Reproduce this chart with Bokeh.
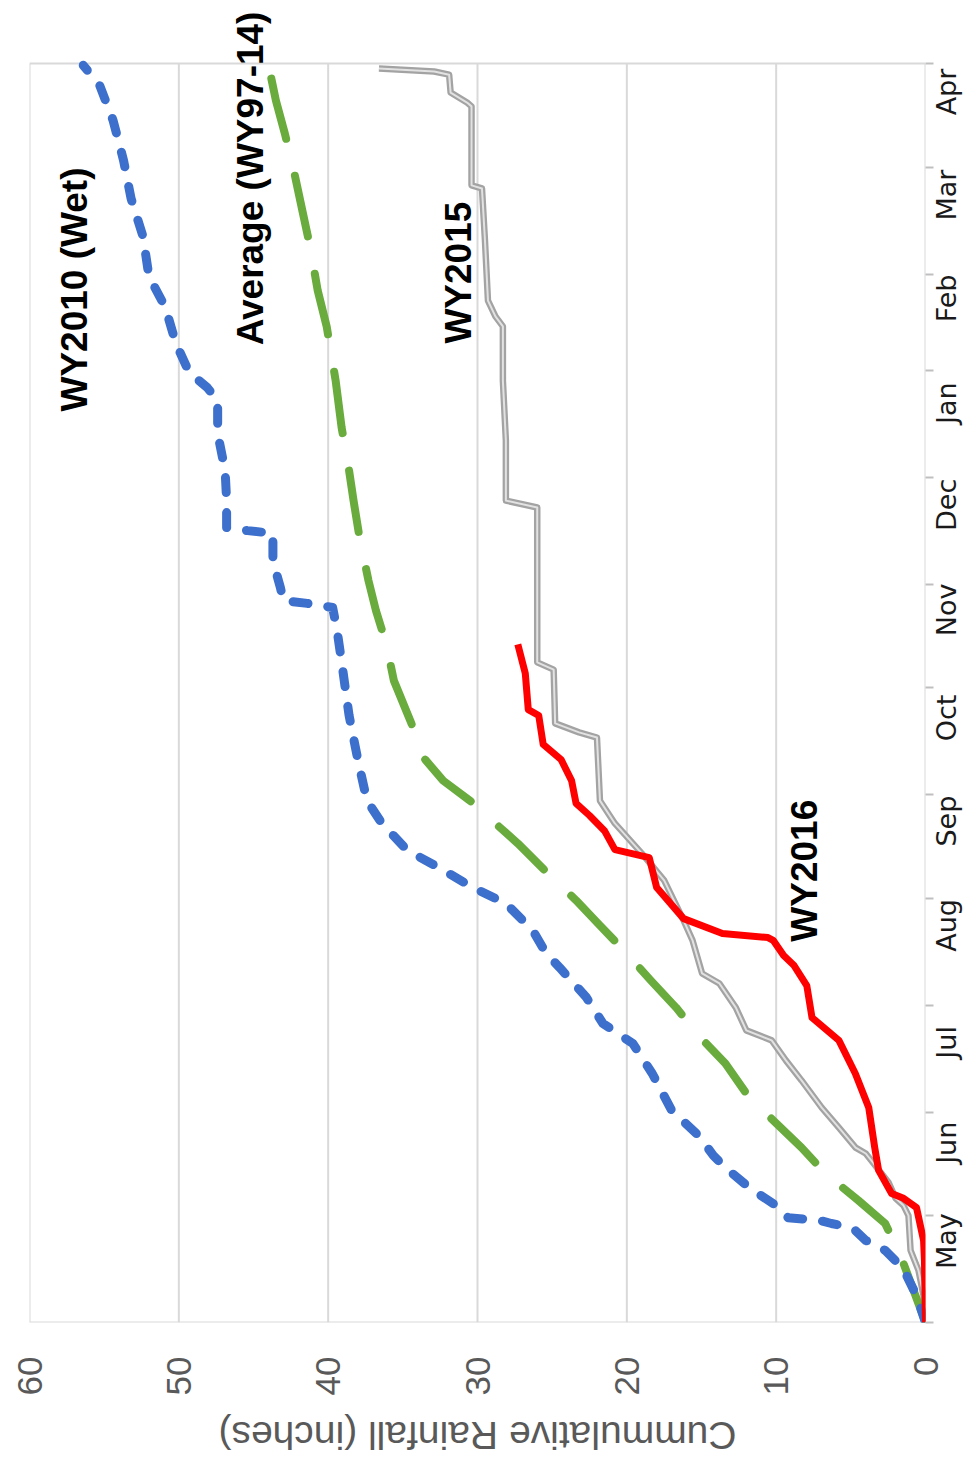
import numpy as np
from math import pi
from bokeh.plotting import figure
from bokeh.layouts import column
from bokeh.models import Range1d, FixedTicker, Label
from bokeh.embed import file_html
from bokeh.resources import INLINE

# ---------------- data ----------------
month_names = ["May", "Jun", "Jul", "Aug", "Sep", "Oct", "Nov", "Dec", "Jan", "Feb", "Mar", "Apr"]
month_days = [31, 30, 31, 31, 30, 31, 30, 31, 31, 28, 31, 30]
rain_ticks = [0, 10, 20, 30, 40, 50, 60]

# day of water year (0 = May 1) and cumulative rainfall (inches)
wy2010_day = [0, 7.8, 15.7, 20.9, 23.8, 27.5, 28.7, 29.6, 30.4, 33.3, 39.1, 44.9, 48.4, 54.2,
              61.5, 72.2, 80.9, 86.7, 94.2, 102.9, 107.0, 113.7, 121.5, 126.1, 131.9, 136.9,
              144.7, 151.3, 162.9, 176.0, 188.5, 200.6, 207.3, 208.5, 209.3, 213.1, 220.9,
              228.8, 229.6, 230.5, 238.3, 247.0, 257.8, 267.3, 271.1, 275.4, 283.9, 294.3,
              303.3, 314.9, 325.9, 336.9, 348.5, 358.7, 364.5]
wy2010_in = [0, 0.6, 1.5, 2.7, 4.0, 4.9, 6.3, 7.1, 9.2, 9.8, 11.8, 13.4, 14.2, 15.2,
             17.0, 18.3, 19.6, 21.6, 22.7, 24.5, 25.4, 26.3, 28.1, 30.3, 32.6, 34.7,
             36.4, 37.4, 38.0, 38.6, 39.0, 39.4, 39.7, 41.4, 43.0, 43.2, 43.7,
             43.7, 45.4, 46.8, 46.8, 46.9, 47.4, 47.4, 48.1, 49.3, 50.2, 50.9,
             52.0, 52.4, 53.2, 53.7, 54.4, 55.3, 56.4]

avg_day = [0, 9.3, 18.6, 28.7, 35.4, 43.2, 50.7, 58.6, 66.4, 75.1, 83.2, 91.3, 99.2, 107.9,
           115.1, 122.4, 131.1, 138.9, 144.7, 151.3, 157.1, 163.2, 174.5, 186.1, 196.6,
           206.4, 215.1, 227.6, 238.3, 249.9, 259.5, 273.1, 288.8, 299.2, 311.7, 321.8,
           334.0, 344.7, 354.3, 364.7]
avg_in = [0, 0.8, 1.6, 2.7, 4.5, 6.7, 8.3, 10.2, 12.0, 13.4, 15.2, 16.7, 18.4, 20.2,
          21.8, 23.4, 25.5, 27.3, 28.8, 30.5, 32.3, 33.5, 34.5, 35.6, 36.1,
          36.8, 37.3, 37.9, 38.3, 38.7, 39.1, 39.5, 40.1, 40.7, 41.2, 41.7,
          42.3, 42.9, 43.5, 44.0]

wy2015_day = [0, 7.8, 15.1, 20.9, 31.0, 33.9, 36.0, 40.6, 46.1, 49.0, 50.7, 56.5, 62.3, 70.2,
              76.0, 81.8, 84.7, 91.3, 98.3, 101.2, 110.8, 116.6, 128.2, 136.0, 144.7, 151.3,
              169.6, 171.1, 173.7, 189.3, 191.4, 236.3, 238.3, 255.7, 273.1, 288.8, 291.7,
              296.3, 313.7, 328.8, 329.7, 352.6, 353.7, 356.6, 361.8, 362.7, 363.6]
wy2015_in = [0, 0.13, 0.47, 1.0, 1.14, 1.47, 2.0, 2.47, 3.47, 4.0, 4.68, 5.8, 6.95, 8.3,
             9.35, 10.3, 12.0, 12.7, 13.8, 14.96, 15.6, 16.2, 17.5, 19.0, 20.8, 21.8,
             22.0, 23.2, 24.8, 24.9, 26.0, 26.0, 28.1, 28.1, 28.3, 28.3, 28.8,
             29.3, 29.5, 29.7, 30.4, 30.4, 30.7, 31.8, 31.9, 32.9, 36.6]

wy2016_day = [0, 18.0, 23.8, 33.3, 36.0, 37.4, 44.1, 50.7, 62.3, 72.2, 81.8, 88.4, 97.7, 103.5,
              106.4, 110.8, 111.6, 112.8, 117.1, 126.1, 134.8, 137.1, 142.6, 147.0, 150.5,
              157.1, 163.2, 167.6, 176.0, 177.7, 188.2, 196.6]
wy2016_in = [0, 0.07, 0.13, 0.6, 1.47, 2.27, 3.14, 3.4, 3.8, 4.7, 5.8, 7.6, 7.95, 8.8,
             9.5, 10.2, 10.55, 13.6, 16.2, 18.0, 18.5, 20.8, 21.5, 22.5, 23.4,
             23.7, 24.4, 25.6, 25.9, 26.6, 26.8, 27.3]

month_start = np.concatenate([[0], np.cumsum(month_days)])
year_len = float(month_start[-1])
month_mid = [float(month_start[i] + month_days[i] / 2) for i in range(12)]
month_bounds = [float(b) for b in month_start]

# ---------------- main figure ----------------
# frame spans the top of the canvas so that labels above the plot area are not clipped
p = figure(width=980, height=1400, x_range=Range1d(60, 0), y_range=Range1d(0, 383.3),
           output_backend="svg", toolbar_location=None,
           x_axis_location="below", y_axis_location="right",
           min_border_left=29, min_border_right=53, min_border_top=0, min_border_bottom=78)
p.background_fill_color = "white"
p.border_fill_color = "white"
p.outline_line_color = None

# rainfall axis (bottom)
xa = p.xaxis[0]
xa.ticker = FixedTicker(ticks=rain_ticks)
xa.major_label_orientation = pi / 2
xa.major_label_standoff = 28
xa.major_label_text_font = "Liberation Sans"
xa.major_label_text_font_size = "35px"
xa.major_label_text_color = "#595959"
xa.axis_line_color = None
xa.major_tick_line_color = None
xa.minor_tick_line_color = None

# month axis (right)
ya = p.yaxis[0]
ya.ticker = FixedTicker(ticks=month_mid, minor_ticks=month_bounds)
ya.major_label_overrides = {m: n for m, n in zip(month_mid, month_names)}
ya.major_label_orientation = pi / 2
ya.major_label_standoff = 13
ya.major_label_text_font = "DejaVu Sans"
ya.major_label_text_font_size = "27px"
ya.major_label_text_color = "#1a1a1a"
ya.axis_line_color = None
ya.major_tick_line_color = None
ya.major_tick_out = 0
ya.minor_tick_line_color = "#bfbfbf"
ya.minor_tick_line_width = 2
ya.minor_tick_out = 8
ya.minor_tick_in = 0

p.xgrid.grid_line_color = None
p.ygrid.grid_line_color = None

# plot-area gridlines and border (limited to the water year)
p.segment(x0=rain_ticks, x1=rain_ticks, y0=[0] * len(rain_ticks), y1=[year_len] * len(rain_ticks),
          line_color="#d9d9d9", line_width=2)
p.segment(x0=[rain_ticks[0], rain_ticks[0]], x1=[rain_ticks[-1], rain_ticks[-1]],
          y0=[0, year_len], y1=[0, year_len], line_color="#d9d9d9", line_width=2)

# ---------------- series ----------------
p.line(wy2015_in, wy2015_day, line_color="#a3a3a3", line_width=6.5, line_join="round")
p.line(wy2015_in, wy2015_day, line_color="#e2e2e2", line_width=2, line_join="round")
p.line(avg_in, avg_day, line_color="#6aab3e", line_width=8, line_dash="62 38",
       line_cap="round", line_join="round")
p.line(wy2010_in, wy2010_day, line_color="#3d6fcc", line_width=9, line_dash="15 20",
       line_cap="round", line_join="round")
p.line(wy2016_in, wy2016_day, line_color="#ff0000", line_width=7, line_join="round")

# ---------------- series labels ----------------
def series_label(txt, x, y):
    p.add_layout(Label(x=x, y=y, text=txt, angle=pi / 2, text_align="center",
                       text_baseline="middle", text_font="Liberation Sans",
                       text_font_style="bold", text_font_size="37px", text_color="black"))

series_label("WY2010 (Wet)", 57.0, 299.5)
series_label("Average (WY97-14)", 45.2, 331.7)
series_label("WY2015", 31.3, 304.4)
series_label("WY2016", 8.1, 131.0)

# ---------------- axis title strip (upside-down title) ----------------
t = figure(width=980, height=70, x_range=p.x_range, y_range=Range1d(0, 1),
           output_backend="svg", toolbar_location=None,
           x_axis_location=None, y_axis_location=None,
           min_border_left=29, min_border_right=53, min_border_top=0, min_border_bottom=0)
t.grid.visible = False
t.outline_line_color = None
t.background_fill_color = "white"
t.border_fill_color = "white"
t.add_layout(Label(x=30, y=0.5, text="Cummulative Rainfall (inches)", angle=pi,
                   text_align="center", text_baseline="middle", text_font="Liberation Sans",
                   text_font_size="39px", text_color="#595959"))

layout = column(p, t, spacing=0)
open("out.html", "w").write(file_html(layout, INLINE))
